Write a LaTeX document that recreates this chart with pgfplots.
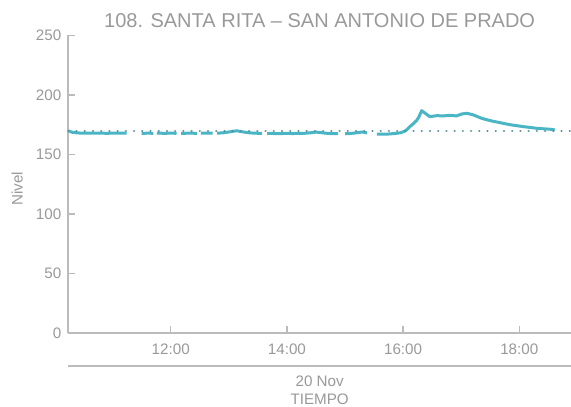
\documentclass[border=0pt]{standalone}
\usepackage{fontspec}
\setmainfont{Liberation Sans}
\usepackage{pgfplots}
\pgfplotsset{compat=1.18}
\definecolor{txtgray}{HTML}{999999}
\definecolor{axgray}{HTML}{BBBBBB}
\definecolor{tealA}{HTML}{4AB5C4}
\definecolor{dotc}{HTML}{538F9C}
\begin{document}
\begin{tikzpicture}
\path[use as bounding box] (-34.15pt,-36.35pt) rectangle (251.35pt,166.65pt);
\begin{axis}[
  at={(0,0)}, anchor=south west,
  scale only axis, width=251.35pt, height=148.9pt,
  xmin=10.2375, xmax=18.89, ymin=0, ymax=250,
  axis lines*=left,
  axis line style={axgray, line width=0.9pt},
  tick align=inside,
  major tick length=3.5pt,
  tick style={axgray, line width=0.7pt},
  xtick={12,14,16,18}, xticklabels={12:00,14:00,16:00,18:00},
  ytick={0,50,100,150,200,250},
  /pgf/number format/assume math mode=true,
  ticklabel style={font=\fontsize{7.6}{9}\selectfont, text=txtgray},
  xticklabel style={yshift=-2pt},
  title={108. SANTA RITA – SAN ANTONIO DE PRADO},
  title style={at={(0.5,1)}, anchor=base, yshift=-1.9pt, font=\fontsize{10}{12}\selectfont, text=txtgray},
  unbounded coords=jump,
  clip=false,
]
\addplot[tealA, line width=1.5pt, line join=round] coordinates {
(10.24,170.0) (10.30,168.8) (10.40,168.2) (10.50,168.0) (10.60,168.1) (10.70,168.0)
(10.80,168.0) (10.90,167.9) (11.00,168.0) (11.10,168.0) (11.24,168.0) (11.30,nan)
(11.50,167.8) (11.60,168.0) (11.70,167.9) (11.73,nan) (11.76,168.0) (11.90,167.9)
(12.00,168.0) (12.10,167.9) (12.14,nan) (12.18,167.8) (12.30,168.0) (12.45,167.9)
(12.49,nan) (12.52,168.0) (12.60,168.1) (12.72,168.0) (12.76,nan) (12.80,168.0)
(12.90,168.3) (13.00,169.0) (13.10,169.8) (13.15,169.9) (13.25,169.0) (13.35,168.3)
(13.45,168.0) (13.57,167.8) (13.61,nan) (13.66,167.8) (13.80,167.7) (13.90,167.7)
(14.00,167.8) (14.10,167.7) (14.20,167.8) (14.30,167.9) (14.40,168.3) (14.50,168.9)
(14.60,168.4) (14.70,167.8) (14.80,167.6) (14.88,167.6) (14.94,nan) (15.00,167.5)
(15.10,167.8) (15.20,168.3) (15.30,169.0) (15.38,168.2) (15.46,nan) (15.55,167.3)
(15.65,167.2) (15.75,167.3) (15.85,167.7) (15.95,168.3) (16.02,169.5) (16.06,170.7)
(16.10,172.8) (16.15,174.9) (16.23,178.5) (16.27,181.5) (16.32,186.9) (16.38,184.7)
(16.46,181.9) (16.58,182.7) (16.69,182.5) (16.81,183.0) (16.92,182.5) (17.01,184.1)
(17.10,184.7) (17.21,183.3) (17.35,180.5) (17.50,178.5) (17.67,176.8) (17.84,175.1)
(18.07,173.5) (18.30,172.1) (18.53,171.3) (18.61,170.7)
};
\addplot[dotc, line width=1.2pt, line cap=round, dash pattern=on 0.01pt off 4.1pt] coordinates {(10.2375,170) (18.89,170)};
\draw[axgray, line width=0.9pt] ([yshift=-16.35pt]rel axis cs:0,0) -- ([yshift=-16.35pt]rel axis cs:1,0);
\node[anchor=base, text=txtgray, font=\fontsize{7.6}{9}\selectfont] at ([yshift=-26.7pt]rel axis cs:0.5,0) {20 Nov};
\node[anchor=base, text=txtgray, font=\fontsize{7.6}{9}\selectfont] at ([yshift=-35.35pt]rel axis cs:0.5,0) {TIEMPO};
\node[rotate=90, anchor=base, text=txtgray, font=\fontsize{7.6}{9}\selectfont] at ([xshift=-22.8pt]rel axis cs:0,0.485) {Nivel};
\end{axis}
\end{tikzpicture}
\end{document}
